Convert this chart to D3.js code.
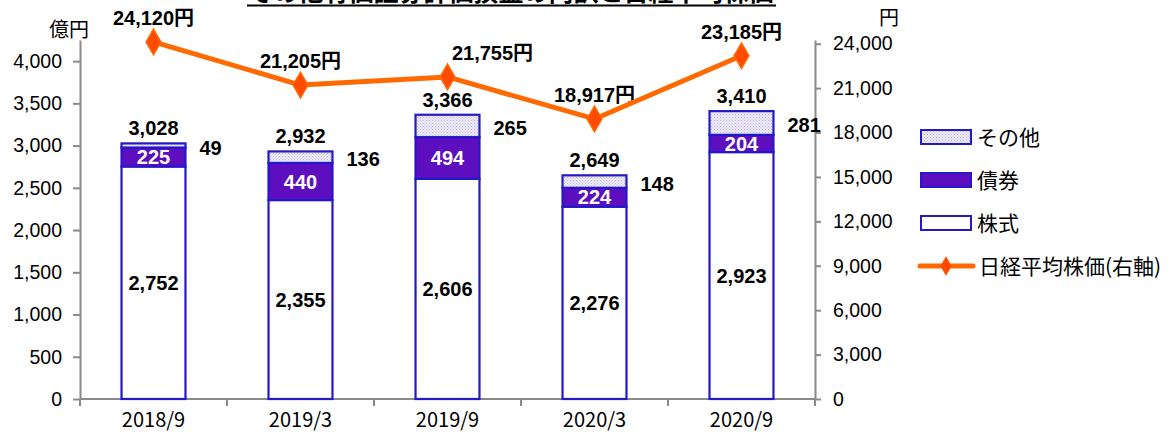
<!DOCTYPE html>
<html>
<head>
<meta charset="utf-8">
<script src="https://cdn.jsdelivr.net/npm/d3@7"></script>
<style>
  body { margin: 0; background: #fff; }
  svg { display: block; }
  text { font-family: "Liberation Sans", "Noto Sans CJK JP", sans-serif; }
</style>
</head>
<body>
<div id="chart"></div>
<script>
// data (億円 / 円)
const categories = ["2018/9", "2019/3", "2019/9", "2020/3", "2020/9"];
const stocks = [2752, 2355, 2606, 2276, 2923];
const bonds = [225, 440, 494, 224, 204];
const others = [49, 136, 265, 148, 281];
const totals = [3028, 2932, 3366, 2649, 3410];
const nikkei = [24120, 21205, 21755, 18917, 23185];
const leftTicks = [0, 500, 1000, 1500, 2000, 2500, 3000, 3500, 4000];
const rightTicks = [0, 3000, 6000, 9000, 12000, 15000, 18000, 21000, 24000];
const seriesNames = ["その他", "債券", "株式"];

const W = 1170, H = 432;
const plotLeft = 80, plotRight = 815, plotTop = 40, plotBottom = 399;
const barBlue = "#2418c8";
const bondFill = "#5d0fc0";
const lineOrange = "#ff6a00";
const markerRed = "#ff4a00";
const axisGray = "#8a8a8a";
// the 2019/9 price label sits to the right of its point in the original
const nikkeiLabelShift = [0, 0, 45, 0, 0];

let svg = d3.select("#chart")
    .append("svg")
    .attr("width", W)
    .attr("height", H);

// dotted fill for その他
let defs = svg.append("defs");
let pat = defs.append("pattern")
    .attr("id", "dots")
    .attr("width", 3).attr("height", 3)
    .attr("patternUnits", "userSpaceOnUse");
pat.append("rect").attr("width", 3).attr("height", 3).attr("fill", "#ece9f6");
pat.append("rect").attr("width", 1).attr("height", 1).attr("fill", "#bdb5dc");
pat.append("rect").attr("x", 1.5).attr("y", 1.5).attr("width", 1).attr("height", 1).attr("fill", "#cfc8e6");

let x = d3.scaleBand().domain(categories).range([plotLeft, plotRight]).padding(0);
let yL = d3.scaleLinear().domain([0, 4250]).range([plotBottom, plotTop]);
let yR = d3.scaleLinear().domain([0, 24250]).range([plotBottom, plotTop]);
const barW = x.bandwidth() * 0.435;
const cx = d => x(d) + x.bandwidth() / 2;

// title (mostly cut off at the top edge, as in the original)
svg.append("text")
    .attr("x", 511).attr("y", 1)
    .attr("text-anchor", "middle")
    .style("font-family", "Noto Sans CJK JP")
    .style("font-weight", "bold")
    .style("font-size", "25px")
    .text("その他有価証券評価損益の内訳と日経平均株価");
svg.append("line")
    .attr("x1", 247).attr("x2", 776)
    .attr("y1", 5.5).attr("y2", 5.5)
    .attr("stroke", "#000").attr("stroke-width", 2);

// left axis
let gL = svg.append("g")
    .attr("transform", "translate(" + plotLeft + ",0)")
    .call(d3.axisLeft(yL).tickValues(leftTicks).tickSize(7).tickPadding(11)
        .tickSizeOuter(0).tickFormat(d3.format(",")));
// right axis
let gR = svg.append("g")
    .attr("transform", "translate(" + plotRight + ",0)")
    .call(d3.axisRight(yR).tickValues(rightTicks).tickSize(6).tickPadding(12)
        .tickSizeOuter(0).tickFormat(d3.format(",")));
[gL, gR].forEach(g => {
    g.select(".domain").attr("stroke", axisGray).attr("stroke-width", 2);
    g.selectAll(".tick line").attr("stroke", axisGray).attr("stroke-width", 2);
    g.selectAll(".tick text")
        .style("font-size", "19.5px")
        .attr("fill", "#000");
});

// bottom axis: labels centred, ticks on band edges
let gX = svg.append("g")
    .attr("transform", "translate(0," + plotBottom + ")")
    .call(d3.axisBottom(x).tickSize(0).tickPadding(14).tickSizeOuter(0));
gX.select(".domain").remove();
gX.selectAll(".tick text")
    .style("font-family", "Noto Sans CJK JP")
    .style("font-size", "20px")
    .attr("fill", "#000");
svg.append("line")
    .attr("x1", plotLeft).attr("x2", plotRight)
    .attr("y1", plotBottom).attr("y2", plotBottom)
    .attr("stroke", axisGray).attr("stroke-width", 2);
svg.append("g").selectAll("line")
    .data(d3.range(categories.length + 1))
    .enter().append("line")
    .attr("x1", i => plotLeft + i * x.step())
    .attr("x2", i => plotLeft + i * x.step())
    .attr("y1", plotBottom).attr("y2", plotBottom + 7)
    .attr("stroke", axisGray).attr("stroke-width", 2);

// stacked bars
let rows = categories.map((c, i) => ({ cat: c, stock: stocks[i], bond: bonds[i], other: others[i], total: totals[i] }));
let stack = d3.stack().keys(["stock", "bond", "other"])(rows);
const fills = { stock: "#fff", bond: bondFill, other: "url(#dots)" };

let bars = svg.append("g");
stack.forEach(layer => {
    bars.selectAll(null)
        .data(layer)
        .enter().append("rect")
        .attr("x", d => cx(d.data.cat) - barW / 2)
        .attr("width", barW)
        .attr("y", d => yL(d[1]))
        .attr("height", d => yL(d[0]) - yL(d[1]))
        .attr("fill", fills[layer.key])
        .attr("stroke", barBlue)
        .attr("stroke-width", 2.2);
});

// segment labels
let fmt = d3.format(",");
let lab = svg.append("g").style("font-weight", "bold").style("font-size", "20px");
stack[0].forEach(d => {
    lab.append("text")
        .attr("x", cx(d.data.cat)).attr("y", (yL(d[0]) + yL(d[1])) / 2)
        .attr("text-anchor", "middle").attr("dy", "0.36em")
        .text(fmt(d.data.stock));
});
stack[1].forEach(d => {
    lab.append("text")
        .attr("x", cx(d.data.cat)).attr("y", (yL(d[0]) + yL(d[1])) / 2)
        .attr("text-anchor", "middle").attr("dy", "0.36em")
        .attr("fill", "#fff")
        .text(fmt(d.data.bond));
});
stack[2].forEach(d => {
    lab.append("text")
        .attr("x", cx(d.data.cat) + barW / 2 + 14).attr("y", (yL(d[0]) + yL(d[1])) / 2 + 2)
        .attr("dy", "0.36em")
        .text(fmt(d.data.other));
});
rows.forEach(d => {
    lab.append("text")
        .attr("x", cx(d.cat)).attr("y", yL(d3.sum([d.stock, d.bond, d.other])) - 8)
        .attr("text-anchor", "middle")
        .text(fmt(d.total));
});

// Nikkei line
let line = d3.line()
    .x((d, i) => cx(categories[i]))
    .y(d => yR(d));
svg.append("path")
    .datum(nikkei)
    .attr("d", line)
    .attr("fill", "none")
    .attr("stroke", lineOrange)
    .attr("stroke-width", 5)
    .attr("stroke-linejoin", "round");
svg.append("g").selectAll("path")
    .data(nikkei)
    .enter().append("path")
    .attr("transform", (d, i) => "translate(" + cx(categories[i]) + "," + yR(d) + ")")
    .attr("d", d3.symbol().type(d3.symbolDiamond).size(190))
    .attr("fill", markerRed)
    .attr("stroke", lineOrange)
    .attr("stroke-width", 1.5);
nikkei.forEach((v, i) => {
    lab.append("text")
        .attr("x", cx(categories[i]) + nikkeiLabelShift[i]).attr("y", yR(v) - 17)
        .attr("text-anchor", "middle")
        .text(fmt(v) + "円");
});

// unit labels
svg.append("text").attr("x", 69).attr("y", 37)
    .attr("text-anchor", "middle")
    .style("font-family", "Noto Sans CJK JP").style("font-size", "20px")
    .text("億円");
svg.append("text").attr("x", 889).attr("y", 25)
    .attr("text-anchor", "middle")
    .style("font-family", "Noto Sans CJK JP").style("font-size", "20px")
    .text("円");

// legend
let legend = svg.append("g").attr("transform", "translate(921,137)");
seriesNames.forEach((name, i) => {
    let key = ["other", "bond", "stock"][i];
    let g = legend.append("g").attr("transform", "translate(0," + i * 43 + ")");
    g.append("rect")
        .attr("x", 0).attr("y", -7).attr("width", 50).attr("height", 14)
        .attr("fill", fills[key]).attr("stroke", barBlue).attr("stroke-width", 2);
    g.append("text").attr("x", 56).attr("dy", "0.36em")
        .style("font-family", "Noto Sans CJK JP").style("font-size", "21px")
        .text(name);
});
let lg = legend.append("g").attr("transform", "translate(0," + 3 * 43 + ")");
lg.append("line").attr("x1", -1).attr("x2", 52)
    .attr("stroke", lineOrange).attr("stroke-width", 5).attr("stroke-linecap", "round");
lg.append("path").attr("transform", "translate(25,0)")
    .attr("d", d3.symbol().type(d3.symbolDiamond).size(110))
    .attr("fill", markerRed);
lg.append("text").attr("x", 58).attr("dy", "0.36em")
    .style("font-family", "Noto Sans CJK JP").style("font-size", "21px")
    .text("日経平均株価(右軸)");
</script>
</body>
</html>
